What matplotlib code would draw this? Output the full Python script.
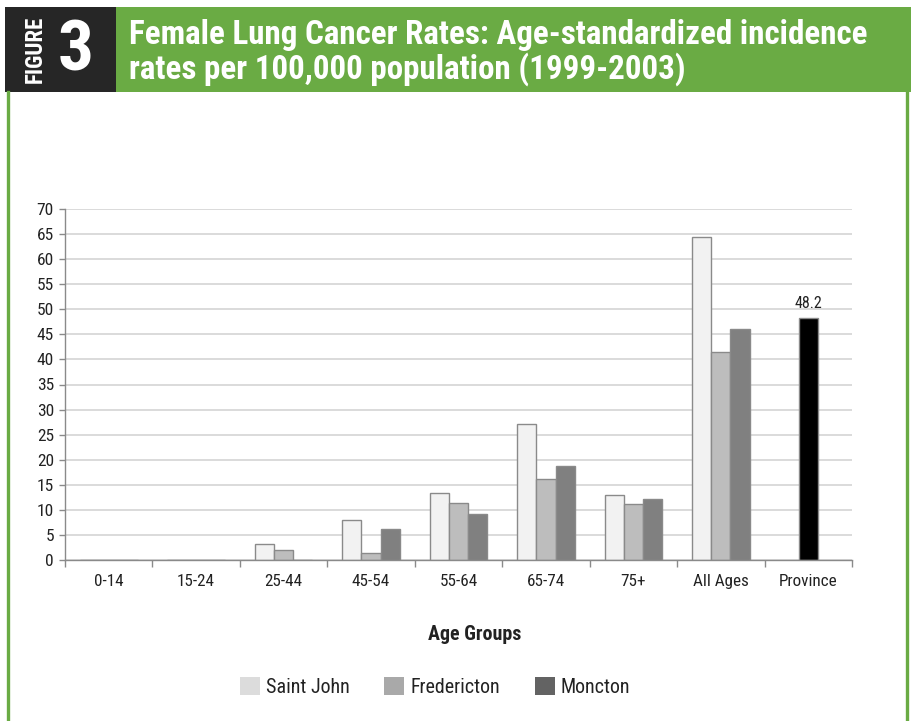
import numpy as np
import matplotlib
matplotlib.use("Agg")
import matplotlib.pyplot as plt
from matplotlib.patches import Rectangle, Patch
from matplotlib.lines import Line2D

categories = ["0-14", "15-24", "25-44", "45-54", "55-64", "65-74", "75+", "All Ages", "Province"]
saint_john = [0, 0, 3.1, 7.9, 13.4, 27.1, 12.9, 64.4, np.nan]
fredericton = [0, 0, 1.9, 1.3, 11.4, 16.1, 11.1, 41.5, np.nan]
moncton = [0, 0, 0, 6.1, 9.2, 18.7, 12.2, 46.0, np.nan]
province = [np.nan] * 8 + [48.2]
series_names = ["Saint John", "Fredericton", "Moncton"]
yticks = list(range(0, 75, 5))

W, H = 911, 721
fig = plt.figure(figsize=(W / 100, H / 100), dpi=100)
fig.patch.set_facecolor("white")

NARROW = ["Roboto Condensed", "Roboto", "DejaVu Sans"]
GREEN = "#6aab44"

def px(x0, y0, x1, y1):
    return [x0 / W, 1 - y1 / H, (x1 - x0) / W, (y1 - y0) / H]

# header
fig.patches.append(Rectangle((5 / W, 1 - 92 / H), (116 - 5) / W, (92 - 7) / H,
                             transform=fig.transFigure, facecolor="#262626", edgecolor="none"))
fig.patches.append(Rectangle((116 / W, 1 - 92 / H), (911 - 116) / W, (92 - 7) / H,
                             transform=fig.transFigure, facecolor=GREEN, edgecolor="none"))
# frame side lines
for xx in (8, 907):
    fig.add_artist(Line2D([xx / W, xx / W], [0, 1 - 92 / H], transform=fig.transFigure,
                          color=GREEN, lw=2.4))

fig.text(35 / W, 1 - 49 / H, "FIGURE", rotation=90, color="white", family=NARROW,
         fontweight="bold", fontsize=16.5, ha="center", va="center")
fig.text(76 / W, 1 - 51 / H, "3", color="white", family=NARROW,
         fontweight="bold", fontsize=51, ha="center", va="center")
fig.text(129 / W, 1 - 44 / H, "Female Lung Cancer Rates: Age-standardized incidence",
         color="white", family=NARROW, fontweight="bold", fontsize=23.8, ha="left", va="baseline")
fig.text(129 / W, 1 - 79 / H, "rates per 100,000 population (1999-2003)",
         color="white", family=NARROW, fontweight="bold", fontsize=23.8, ha="left", va="baseline")

# axes
ax = fig.add_axes(px(65, 209, 852, 560))
x = np.arange(len(categories))
bw = 0.22
fills = ["#f2f2f2", "#bdbdbd", "#808080"]
edge = "#8a8a8a"
for i, vals in enumerate([saint_john, fredericton, moncton]):
    ax.bar(x + (i - 1) * bw, vals, width=bw, color=fills[i], edgecolor=edge, linewidth=1.0, zorder=3)
ax.bar(x, province, width=bw, color="black", edgecolor=edge, linewidth=1.0, zorder=3)
for xi, v in zip(x, province):
    if not np.isnan(v):
        ax.text(xi, v + 1.5, f"{v:.1f}", ha="center", va="bottom", family=NARROW, fontsize=11.5,
                color="#222222")

ax.set_xlim(-0.5, len(categories) - 0.5)
ax.set_ylim(0, 70)
ax.set_yticks(yticks)
ax.set_yticklabels([str(t) for t in yticks])
ax.set_xticks(x)
ax.set_xticklabels(categories)
ax.set_xticks(np.arange(-0.5, len(categories), 1.0), minor=True)
ax.tick_params(axis="x", which="major", length=0, pad=10, labelsize=12.3, labelcolor="#222222")
ax.tick_params(axis="x", which="minor", length=5, color=edge, width=1)
ax.tick_params(axis="y", length=4, color=edge, width=1, pad=4, labelsize=12.5, labelcolor="#222222")
for lab in ax.get_xticklabels() + ax.get_yticklabels():
    lab.set_family(NARROW)
ax.grid(axis="y", color="#d4d4d4", lw=1.2, zorder=0)
ax.set_axisbelow(True)
for s in ("top", "right"):
    ax.spines[s].set_visible(False)
for s in ("left", "bottom"):
    ax.spines[s].set_color(edge)
    ax.spines[s].set_linewidth(1.0)
ax.spines["bottom"].set_zorder(4)

fig.text(475 / W, 1 - 634 / H, "Age Groups", ha="center", va="center", family=NARROW,
         fontsize=14.4, fontweight="bold", color="#222222")

leg_colors = ["#dcdcdc", "#a9a9a9", "#636363"]
handles = [Patch(facecolor=c, edgecolor="none") for c in leg_colors]
leg = fig.legend(handles, series_names, loc="center", bbox_to_anchor=(435 / W, 1 - 687 / H),
                 ncol=3, frameon=False, prop={"family": NARROW, "size": 14.4},
                 handlelength=1.0, handleheight=1.0, handletextpad=0.3, columnspacing=1.75)
for t in leg.get_texts():
    t.set_color("#222222")

fig.savefig("out.png", dpi=100, facecolor="white")
